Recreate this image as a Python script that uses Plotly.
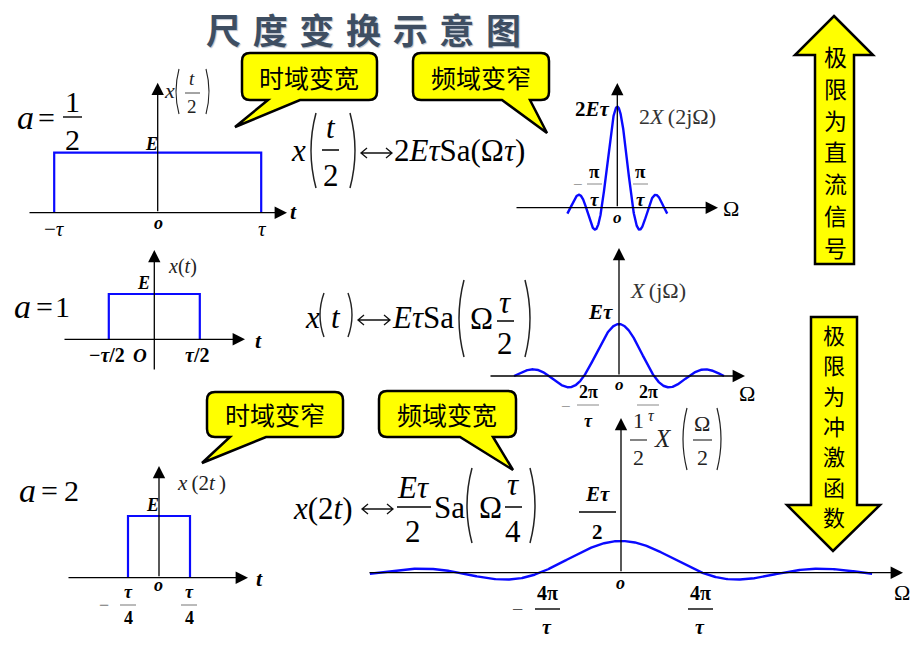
import numpy as np
import plotly.graph_objects as go

W, H = 915, 645
SERIF = "Liberation Serif"
CJK = "Noto Sans CJK SC"
BLUE = "#0a0aff"
TS = "\u2009"  # thin space

# ---------------- data ----------------
E = 1.0
TAU = 1.0
scale_labels = ["1/2", "1", "2"]            # a
pulse_half_width = [1.0, 0.5, 0.25]         # multiples of tau
pulse_height = [1.0, 1.0, 1.0]              # multiples of E
spec_peak = [2.0, 1.0, 0.5]                 # multiples of E*tau
spec_arg = [1.0, 0.5, 0.25]                 # Sa(Omega * k * tau)
spec_extent = [3.2, 6.0, 12.4]              # Omega range, multiples of pi/tau

# ---------------- panel geometry (pixels) ----------------
time_panels = [
    dict(ox=157.7, oy=212.7, sx=103.5, sy=60.0, box=(15, 300, 70, 240)),
    dict(ox=154.3, oy=339.3, sx=91.0, sy=45.3, box=(55, 250, 245, 375)),
    dict(ox=159.0, oy=577.7, sx=124.0, sy=61.7, box=(60, 255, 460, 600)),
]
freq_panels = [
    dict(ox=617.3, oy=207.7, sx=15.6 / np.pi, sy=50.5, box=(505, 730, 75, 242)),
    dict(ox=619.0, oy=376.0, sx=35.0 / (2 * np.pi), sy=52.0, box=(480, 755, 240, 400)),
    dict(ox=621.0, oy=572.7, sx=81.0 / (4 * np.pi), sy=63.4, box=(360, 910, 410, 600)),
]

fig = go.Figure()
layout = dict(
    width=W, height=H, autosize=False,
    margin=dict(l=0, r=0, t=0, b=0, pad=0),
    paper_bgcolor="white", plot_bgcolor="rgba(0,0,0,0)",
    showlegend=False,
    xaxis=dict(domain=[0, 1], range=[0, W], visible=False, fixedrange=True),
    yaxis=dict(domain=[0, 1], range=[H, 0], visible=False, fixedrange=True),
)


def add_panel(idx, p):
    x0, x1, y0, y1 = p["box"]
    layout[f"xaxis{idx}"] = dict(
        domain=[x0 / W, x1 / W],
        range=[(x0 - p["ox"]) / p["sx"], (x1 - p["ox"]) / p["sx"]],
        anchor=f"y{idx}", visible=False, fixedrange=True)
    layout[f"yaxis{idx}"] = dict(
        domain=[1 - y1 / H, 1 - y0 / H],
        range=[(p["oy"] - y1) / p["sy"], (p["oy"] - y0) / p["sy"]],
        anchor=f"x{idx}", visible=False, fixedrange=True)


idx = 2
for i, p in enumerate(time_panels):
    add_panel(idx, p)
    h = pulse_half_width[i] * TAU
    a = pulse_height[i] * E
    fig.add_trace(go.Scatter(x=[-h, -h, h, h], y=[0, a, a, 0], mode="lines",
                             line=dict(color=BLUE, width=2.2),
                             xaxis=f"x{idx}", yaxis=f"y{idx}", hoverinfo="skip"))
    idx += 1
for i, p in enumerate(freq_panels):
    add_panel(idx, p)
    om = np.linspace(-spec_extent[i] * np.pi / TAU, spec_extent[i] * np.pi / TAU, 700)
    y = spec_peak[i] * E * TAU * np.sinc(om * spec_arg[i] * TAU / np.pi)
    fig.add_trace(go.Scatter(x=om, y=y, mode="lines",
                             line=dict(color=BLUE, width=2.4),
                             xaxis=f"x{idx}", yaxis=f"y{idx}", hoverinfo="skip"))
    idx += 1

ann = []
shapes = []


def T(x, y, s, size=17, bold=False, italic=False, color="black", family=SERIF,
      xanchor="center", yanchor="middle"):
    ann.append(dict(x=x, y=y, xref="x", yref="y", text=s, showarrow=False,
                    xanchor=xanchor, yanchor=yanchor, borderpad=0, borderwidth=0,
                    font=dict(family=family, size=size, color=color,
                              weight="bold" if bold else "normal",
                              style="italic" if italic else "normal")))


def bar(x0, x1, y, w=1.3, color="black"):
    shapes.append(dict(type="line", xref="x", yref="y", x0=x0, x1=x1, y0=y, y1=y,
                       line=dict(color=color, width=w)))


def paren(x, y0, y1, side, b=5, w=1.4, color="#222"):
    ym = (y0 + y1) / 2
    if side == "l":
        path = f"M {x+b},{y0} Q {x-b},{ym} {x+b},{y1}"
    else:
        path = f"M {x-b},{y0} Q {x+b},{ym} {x-b},{y1}"
    shapes.append(dict(type="path", xref="x", yref="y", path=path,
                       line=dict(color=color, width=w)))


def dblarrow(x0, x1, y, hw=6, hh=5, w=1.3, color="#111"):
    path = (f"M {x0},{y} L {x1},{y} M {x0+hw},{y-hh} L {x0},{y} L {x0+hw},{y+hh} "
            f"M {x1-hw},{y-hh} L {x1},{y} L {x1-hw},{y+hh}")
    shapes.append(dict(type="path", xref="x", yref="y", path=path,
                       line=dict(color=color, width=w)))


def arrow(x0, y0, x1, y1):
    ann.append(dict(x=x1, y=y1, ax=x0, ay=y0, xref="x", yref="y", axref="x", ayref="y",
                    text="", showarrow=True, arrowhead=2, arrowsize=1.9, arrowwidth=1.3,
                    arrowcolor="black", standoff=0, startstandoff=0))


def callout(x0, y0, x1, y1, bx0, bx1, tx, ty, r=8):
    path = (f"M {x0+r},{y0} L {x1-r},{y0} Q {x1},{y0} {x1},{y0+r} "
            f"L {x1},{y1-r} Q {x1},{y1} {x1-r},{y1} L {bx1},{y1} L {tx},{ty} L {bx0},{y1} "
            f"L {x0+r},{y1} Q {x0},{y1} {x0},{y1-r} L {x0},{y0+r} Q {x0},{y0} {x0+r},{y0} Z")
    shapes.append(dict(type="path", xref="x", yref="y", path=path,
                       fillcolor="#ffff00", line=dict(color="black", width=2.5)))


# ---------------- axes ----------------
arrow(28, 212.7, 287, 212.7); arrow(157.7, 212.7, 157.7, 82.7)
arrow(63, 339.3, 245, 339.3); arrow(154.3, 371, 154.3, 250)
arrow(67, 577.7, 248, 577.7); arrow(159, 577.7, 159, 466)
arrow(515, 207.7, 718, 207.7); arrow(617.3, 207.7, 617.3, 83)
arrow(489, 376, 745, 376); arrow(619, 376, 619, 248)
arrow(368, 572.7, 903, 572.7); arrow(621, 572.7, 621, 418)

# ---------------- title ----------------
ann.append(dict(x=363, y=28, xref="x", yref="y", showarrow=False,
                text="\u2004".join("尺度变换示意图"),
                font=dict(family=CJK, size=35, color="#3e4e62", weight="bold",
                          shadow="1px 1px 1px #b8c0cc")))

# ---------------- callouts ----------------
callout(242, 53, 377, 100, 268, 300, 235, 127)
callout(413, 53, 549, 100, 502, 530, 547, 133)
callout(207, 392, 343, 437, 230, 266, 202, 463)
callout(379, 391, 516, 437, 460, 493, 513, 470)
T(309, 77, "时域变宽", size=25, family=CJK)
T(481, 77, "频域变窄", size=25, family=CJK)
T(275, 414, "时域变窄", size=25, family=CJK)
T(447, 414, "频域变宽", size=25, family=CJK)

# ---------------- block arrows ----------------
shapes.append(dict(type="path", xref="x", yref="y",
                   path="M 834,16 L 873,55 L 854,55 L 854,264 L 815,264 L 815,55 L 795,55 Z",
                   fillcolor="#ffff00", line=dict(color="black", width=2.5)))
shapes.append(dict(type="path", xref="x", yref="y",
                   path="M 811,317 L 857,317 L 857,505 L 880,505 L 833,551 L 787,505 L 811,505 Z",
                   fillcolor="#ffff00", line=dict(color="black", width=2.5)))
for k, ch in enumerate("极限为直流信号"):
    T(835, 56 + k * 31.8, ch, size=23, family=CJK)
for k, ch in enumerate("极限为冲激函数"):
    T(834, 334 + k * 30.3, ch, size=22, family=CJK)

# ---------------- a = ... ----------------
T(25, 117, "a", size=34, italic=True); T(46, 117, "=", size=30)
T(72, 101, "1", size=30); bar(63, 82, 117, 1.4); T(72, 139, "2", size=30)
T(22, 306, "a", size=34, italic=True); T(44, 306, "=", size=30); T(62, 306, "1", size=30)
T(27, 490, "a", size=34, italic=True); T(49, 490, "=", size=30); T(71, 490, "2", size=30)

# ---------------- time panel labels ----------------
T(151, 144, "E", size=18, bold=True, italic=True)
T(169, 90, "x", size=22, italic=True, color="#222")
paren(176, 69, 114, "l", b=3, w=1.1); paren(209, 69, 114, "r", b=3, w=1.1)
T(192, 78, "t", size=19, italic=True, color="#222"); bar(185, 200, 93, 0.9, "#333")
T(192, 106, "2", size=19, color="#222")
T(158, 223, "o", size=18, bold=True, italic=True)
T(54, 229, "\u2212<i>τ</i>", size=21)
T(262, 229, "τ", size=21, italic=True)
T(293, 211, "t", size=22, bold=True, italic=True)

T(143, 283, "E", size=18, bold=True, italic=True)
T(182, 266, "<i>x</i>(<i>t</i>)", size=20, color="#222")
T(107, 355, "\u2212<i>τ</i>/2", size=20, bold=True)
T(140, 355, "O", size=19, bold=True, italic=True)
T(197, 355, "<i>τ</i>/2", size=20, bold=True)
T(258, 340, "t", size=22, bold=True, italic=True)

T(201, 483, f"<i>x</i>{TS}(2<i>t</i>{TS})", size=21, color="#222")
T(152, 505, "E", size=18, bold=True, italic=True)
T(158, 585, "o", size=18, bold=True, italic=True)
T(104, 605, "\u2212", size=18, color="#777")
T(128, 592, "τ", size=18, bold=True, italic=True); bar(120, 136, 605, 1.0, "#777"); T(128, 618, "4", size=18, bold=True)
T(189, 592, "τ", size=18, bold=True, italic=True); bar(181, 197, 605, 1.0, "#777"); T(189, 618, "4", size=18, bold=True)
T(259, 578, "t", size=22, bold=True, italic=True)

# ---------------- frequency panel labels ----------------
T(592, 109, "2<i>Eτ</i>", size=21, bold=True)
T(677, 116, f"2<i>X</i>{TS}(2jΩ)", size=22, color="#333")
T(578, 184, "\u2212", size=17, color="#888")
T(594, 171, "π", size=19, bold=True); bar(587, 602, 184, 1.0, "#888"); T(594, 199, "τ", size=19, bold=True, italic=True)
T(640, 171, "π", size=19, bold=True); bar(633, 648, 184, 1.0, "#888"); T(640, 199, "τ", size=19, bold=True, italic=True)
T(617, 217, "o", size=17, bold=True, italic=True)
T(731, 208, "Ω", size=22)

T(600, 312, "<i>Eτ</i>", size=21, bold=True)
T(658, 290, f"<i>X</i>{TS}(jΩ)", size=22, color="#333")
T(619, 384, "o", size=17, bold=True, italic=True)
T(566, 406, "\u2212", size=17, color="#888")
T(588, 392, "2π", size=18, bold=True); bar(577, 599, 405, 1.0, "#888"); T(588, 421, "τ", size=18, bold=True, italic=True)
T(648, 392, "2π", size=18, bold=True); bar(637, 659, 405, 1.0, "#888")
T(747, 393, "Ω", size=22)

T(597, 494, "<i>Eτ</i>", size=21, bold=True); bar(579, 616, 512, 1.5); T(597, 532, "2", size=21, bold=True)
T(638, 420, "1", size=22, color="#222"); T(651, 415, "τ", size=16, italic=True, color="#222")
bar(630, 647, 440, 1.2, "#333"); T(638, 457, "2", size=22, color="#222")
T(663, 438, "X", size=25, italic=True, color="#222")
paren(683, 408, 470, "l", b=4, w=1.2); paren(721, 408, 470, "r", b=4, w=1.2)
T(702, 423, "Ω", size=22, color="#222"); bar(693, 712, 440, 1.2, "#333"); T(702, 457, "2", size=22, color="#222")
T(620, 583, "o", size=18, bold=True, italic=True)
T(517, 609, "\u2212", size=20, color="#555")
T(547, 593, "4π", size=20, bold=True); bar(535, 560, 609, 1.4); T(547, 627, "τ", size=20, bold=True, italic=True)
T(700, 593, "4π", size=20, bold=True); bar(688, 713, 609, 1.4); T(700, 627, "τ", size=20, bold=True, italic=True)
T(902, 592, "Ω", size=22)

# ---------------- transform pair formulas ----------------
FS = 31
# x(t/2) <-> 2 E tau Sa(Omega tau)
T(298, 150, "x", size=FS, italic=True)
paren(311, 113, 188, "l", b=5, w=1.5); paren(355, 113, 188, "r", b=5, w=1.5)
T(331, 127, "t", size=FS, italic=True); bar(322, 339, 150, 1.5); T(331, 175, "2", size=FS)
dblarrow(361, 392, 153)
T(394, 150, "2<i>Eτ</i>Sa(Ω<i>τ</i>)", size=FS, xanchor="left")

# x(t) <-> E tau Sa(Omega tau/2)
T(312, 317, "x", size=FS, italic=True)
paren(320, 293, 337, "l", b=4, w=1.4); paren(352, 293, 337, "r", b=4, w=1.4)
T(336, 317, "t", size=FS, italic=True)
dblarrow(358, 390, 320)
T(392, 317, "<i>Eτ</i>Sa", size=FS, xanchor="left")
paren(459, 280, 357, "l", b=5, w=1.5); paren(530, 280, 357, "r", b=5, w=1.5)
T(481, 318, "Ω", size=FS)
T(505, 302, "τ", size=FS, italic=True); bar(497, 514, 321, 1.5); T(505, 343, "2", size=FS)

# x(2t) <-> (E tau/2) Sa(Omega tau/4)
T(293, 508, "<i>x</i>(2<i>t</i>)", size=FS, xanchor="left")
dblarrow(362, 393, 509)
T(413, 487, "<i>Eτ</i>", size=FS); bar(397, 431, 507, 1.5); T(413, 531, "2", size=FS)
T(449, 507, "Sa", size=FS)
paren(467, 468, 543, "l", b=5, w=1.5); paren(535, 468, 543, "r", b=5, w=1.5)
T(490, 507, "Ω", size=FS)
T(513, 484, "τ", size=FS, italic=True); bar(505, 522, 507, 1.5); T(513, 531, "4", size=FS)

layout["annotations"] = ann
layout["shapes"] = shapes
fig.update_layout(**layout)
fig.write_html("out.html",
               config={"displayModeBar": False, "staticPlot": True},
               post_script="document.body.style.margin='0px';"
                           "document.body.style.overflow='hidden';")
